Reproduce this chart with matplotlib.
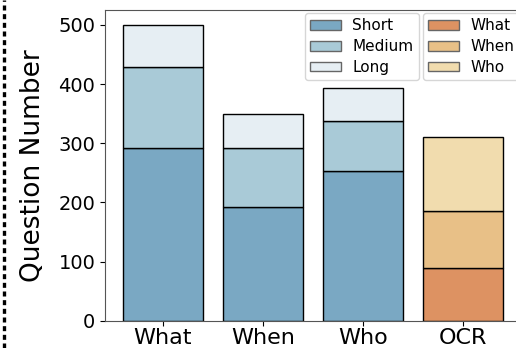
import matplotlib.pyplot as plt
from matplotlib.lines import Line2D
from matplotlib.patches import Patch

categories = ['What', 'When', 'Who']
short = [292, 193, 253]
medium = [137, 99, 85]
long_ = [70, 58, 56]

ocr_label = 'OCR'
ocr_what = 90
ocr_when = 96
ocr_who = 125

blue_colors = ['#7aa8c3', '#a9cad7', '#e6eef3']
orange_colors = ['#dd9262', '#e8c087', '#f1dcae']

fig = plt.figure(figsize=(5.16, 3.48), dpi=100)
ax = fig.add_axes([105 / 516, 0.078, 418 / 516, 0.893])

x = list(range(len(categories)))
bottom_med = short
bottom_long = [s + m for s, m in zip(short, medium)]
ax.bar(x, short, 0.8, color=blue_colors[0], edgecolor='black', linewidth=1)
ax.bar(x, medium, 0.8, bottom=bottom_med, color=blue_colors[1], edgecolor='black', linewidth=1)
ax.bar(x, long_, 0.8, bottom=bottom_long, color=blue_colors[2], edgecolor='black', linewidth=1)

xo = len(categories)
ax.bar(xo, ocr_what, 0.8, color=orange_colors[0], edgecolor='black', linewidth=1)
ax.bar(xo, ocr_when, 0.8, bottom=ocr_what, color=orange_colors[1], edgecolor='black', linewidth=1)
ax.bar(xo, ocr_who, 0.8, bottom=ocr_what + ocr_when, color=orange_colors[2], edgecolor='black', linewidth=1)

ax.set_xlim(-0.58, 3.6)
ax.set_ylim(0, 525)
ax.set_xticks(x + [xo])
ax.set_xticklabels(categories + [ocr_label], fontsize=16)
ax.tick_params(axis='x', pad=1.5)
ax.set_yticks([0, 100, 200, 300, 400, 500])
ax.tick_params(axis='y', labelsize=14)
ax.set_ylabel('Question Number', fontsize=19)
ax.yaxis.set_label_coords(-0.142, 0.5)
for s in ax.spines.values():
    s.set_color('#555555')

# two legends, blue then orange
h1 = [Patch(facecolor=c, edgecolor='#666666') for c in blue_colors]
leg1 = fig.legend(h1, ['Short', 'Medium', 'Long'], loc='upper left',
                  bbox_to_anchor=(305 / 516, 1 - 13 / 348), borderaxespad=0,
                  fontsize=11, handlelength=2.0, handleheight=0.6,
                  labelspacing=0.38, borderpad=0.35, handletextpad=0.75)
h2 = [Patch(facecolor=c, edgecolor='#666666') for c in orange_colors]
leg2 = fig.legend(h2, ['What', 'When', 'Who'], loc='upper left',
                  bbox_to_anchor=(423 / 516, 1 - 13 / 348), borderaxespad=0,
                  fontsize=11, handlelength=2.0, handleheight=0.6,
                  labelspacing=0.38, borderpad=0.35, handletextpad=0.75)

# dotted separator on the left edge
fig.add_artist(Line2D([4 / 516, 4 / 516], [0.0, 1.0], transform=fig.transFigure,
                      color='black', linewidth=2.4, linestyle=(0, (1.5, 1.1))))

fig.savefig('out.png', dpi=100)
